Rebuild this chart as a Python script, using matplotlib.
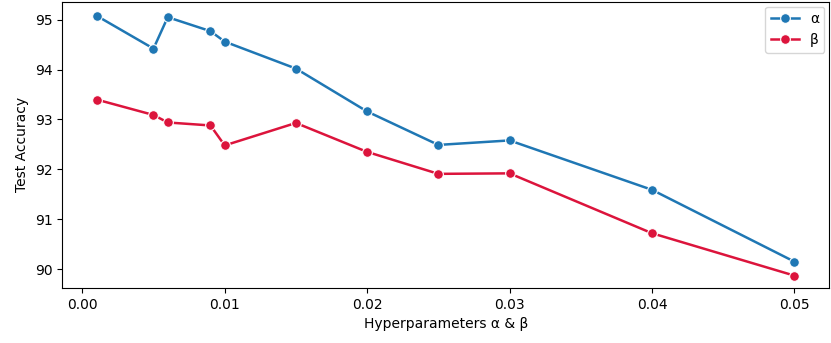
import matplotlib
matplotlib.use("Agg")
import matplotlib.pyplot as plt


# Values
hyperparams = [0.001, 0.005, 0.006, 0.009, 0.01, 0.015, 0.02, 0.025, 0.03, 0.04, 0.05]
acc_alpha = [95.08, 94.42, 95.05, 94.77, 94.56, 94.02, 93.16, 92.49, 92.58, 91.59, 90.15]
acc_beta = [93.40, 93.09, 92.94, 92.88, 92.48, 92.93, 92.35, 91.91, 91.92, 90.72, 89.87]


fig, ax = plt.subplots(figsize=(8.31, 3.43), dpi=100)

ax.plot(hyperparams, acc_alpha, marker="o", color="#1f77b4", linewidth=1.8,
        markersize=7, markeredgecolor="white", markeredgewidth=0.8, label="α")
ax.plot(hyperparams, acc_beta, marker="o", color="crimson", linewidth=1.8,
        markersize=7, markeredgecolor="white", markeredgewidth=0.8, label="β")

ax.set_xlabel("Hyperparameters α & β")
ax.set_ylabel("Test Accuracy")
ax.set_xticks([0.0, 0.01, 0.02, 0.03, 0.04, 0.05])
ax.set_xticklabels(["0.00", "0.01", "0.02", "0.03", "0.04", "0.05"])
ax.set_yticks([90, 91, 92, 93, 94, 95])
ax.set_ylim(89.62, 95.36)
ax.set_xlim(-0.0014, 0.05245)

ax.legend(loc="upper right", borderaxespad=0.35)

plt.subplots_adjust(left=0.075, right=0.998, top=0.995, bottom=0.16)
plt.savefig("out.png")
plt.close()
